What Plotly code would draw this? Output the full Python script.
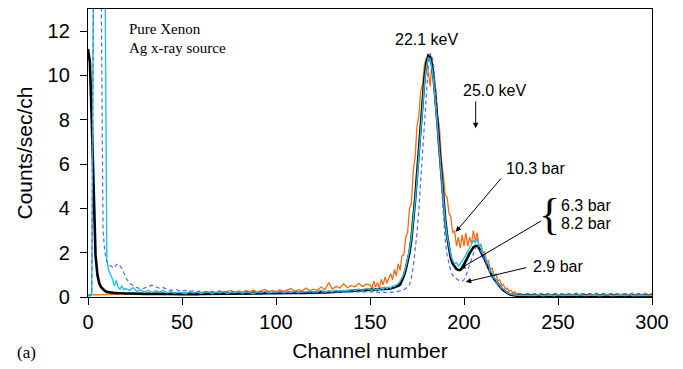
import plotly.graph_objects as go

# channel positions (fine near the spike and the peaks)
ch_low = list(range(0, 21))
ch_mid = list(range(22, 150, 2))
ch_peak = list(range(150, 231))
ch_high = list(range(232, 301, 2))
channels = ch_low + ch_mid + ch_peak + ch_high

# 6.3 bar (black)
black_low = [11.2, 10.6, 8.0, 4.6, 1.9, 1.0, 0.62, 0.44, 0.33, 0.27, 0.23, 0.21, 0.2, 0.19, 0.18, 0.18, 0.17, 0.17, 0.17, 0.16, 0.16]
black_mid = [0.16, 0.15, 0.15, 0.15, 0.14, 0.15, 0.14, 0.14, 0.15, 0.14,
             0.14, 0.13, 0.14, 0.14, 0.13, 0.14, 0.13, 0.14, 0.13, 0.14,
             0.14, 0.13, 0.14, 0.14, 0.15, 0.14, 0.15, 0.14, 0.15, 0.15,
             0.15, 0.16, 0.15, 0.16, 0.16, 0.16, 0.17, 0.16, 0.17, 0.17,
             0.17, 0.18, 0.17, 0.18, 0.18, 0.19, 0.18, 0.19, 0.2, 0.19,
             0.2, 0.21, 0.2, 0.21, 0.22, 0.22, 0.23, 0.23, 0.24, 0.25,
             0.26, 0.27, 0.28, 0.29]
black_peak = [0.3, 0.31, 0.32, 0.32, 0.33, 0.34, 0.35, 0.35, 0.36, 0.37,
              0.38, 0.39, 0.41, 0.43, 0.46, 0.5, 0.56, 0.72, 0.95, 1.25,
              1.6, 2.0, 2.6, 3.4, 4.4, 5.5, 6.7, 7.9, 9.0, 9.9,
              10.55, 10.9, 10.85, 10.45, 9.75, 8.85, 7.75, 6.6, 5.45, 4.4,
              3.5, 2.75, 2.15, 1.75, 1.5, 1.35, 1.26, 1.22, 1.22, 1.3,
              1.45, 1.62, 1.8, 1.98, 2.12, 2.24, 2.3, 2.3, 2.2, 2.05,
              1.88, 1.7, 1.5, 1.3, 1.1, 0.95, 0.82, 0.7, 0.58, 0.47,
              0.38, 0.3, 0.23, 0.17, 0.13, 0.1, 0.08, 0.07, 0.06, 0.06,
              0.06]
black_high = [0.06, 0.06, 0.05, 0.06, 0.05, 0.05, 0.06, 0.05, 0.05, 0.05,
              0.06, 0.05, 0.05, 0.05, 0.05, 0.06, 0.05, 0.05, 0.05, 0.05,
              0.05, 0.06, 0.05, 0.05, 0.05, 0.05, 0.05, 0.05, 0.06, 0.05,
              0.05, 0.05, 0.05, 0.05, 0.05]

# 8.2 bar (cyan)
cyan_low = [0.1, 0.1, 0.15, 16, 16, 16, 16, 16, 16, 16, 1.7, 1.2, 1.0, 0.8, 0.5, 0.75, 0.45, 0.35, 0.5, 0.33, 0.38]
cyan_mid = [0.3, 0.42, 0.25, 0.33, 0.22, 0.3, 0.2, 0.28, 0.22, 0.3,
            0.18, 0.25, 0.17, 0.22, 0.2, 0.15, 0.24, 0.18, 0.22, 0.16,
            0.2, 0.24, 0.15, 0.22, 0.18, 0.25, 0.16, 0.21, 0.19, 0.24,
            0.17, 0.22, 0.2, 0.15, 0.23, 0.19, 0.25, 0.18, 0.22, 0.2,
            0.26, 0.18, 0.23, 0.2, 0.27, 0.19, 0.24, 0.22, 0.28, 0.21,
            0.25, 0.3, 0.22, 0.28, 0.24, 0.31, 0.26, 0.3, 0.27, 0.33,
            0.29, 0.36, 0.3, 0.38]
cyan_peak = [0.35, 0.28, 0.4, 0.32, 0.38, 0.3, 0.42, 0.35, 0.45, 0.38,
             0.45, 0.4, 0.5, 0.48, 0.55, 0.6, 0.7, 0.85, 1.05, 1.35,
             1.7, 2.1, 2.7, 3.4, 4.3, 5.3, 6.4, 7.6, 8.7, 9.7,
             10.4, 10.8, 10.75, 10.3, 9.6, 8.6, 7.5, 6.4, 5.3, 4.3,
             3.4, 2.75, 2.25, 1.9, 1.65, 1.5, 1.55, 1.4, 1.5, 1.6,
             1.75, 1.9, 2.05, 2.2, 2.4, 2.55, 2.45, 2.65, 2.3, 2.35,
             1.95, 1.9, 1.55, 1.5, 1.15, 1.1, 0.85, 0.8, 0.6, 0.52,
             0.4, 0.35, 0.25, 0.2, 0.15, 0.12, 0.1, 0.09, 0.08, 0.08,
             0.07]
cyan_high = [0.08, 0.06, 0.09, 0.07, 0.1, 0.06, 0.08, 0.09, 0.06, 0.1,
             0.07, 0.08, 0.06, 0.09, 0.07, 0.1, 0.06, 0.08, 0.07, 0.09,
             0.06, 0.08, 0.1, 0.07, 0.06, 0.09, 0.08, 0.07, 0.1, 0.06,
             0.08, 0.07, 0.09, 0.06, 0.08]

# 2.9 bar (blue dashed)
dashed_low = [0.05, 0.05, 0.1, 16, 16, 16, 16, 14, 3.0, 2.0, 1.6, 1.45, 1.4, 1.35, 1.3, 1.45, 1.5, 1.4, 1.3, 1.1, 0.9]
dashed_mid = [0.62, 0.5, 0.42, 0.38, 0.4, 0.48, 0.53, 0.45, 0.4, 0.42,
              0.35, 0.3, 0.34, 0.29, 0.27, 0.3, 0.25, 0.28, 0.24, 0.27,
              0.23, 0.26, 0.24, 0.22, 0.26, 0.23, 0.25, 0.22, 0.26, 0.24,
              0.22, 0.25, 0.23, 0.26, 0.22, 0.24, 0.21, 0.25, 0.23, 0.22,
              0.24, 0.21, 0.23, 0.25, 0.22, 0.24, 0.21, 0.23, 0.22, 0.24,
              0.21, 0.23, 0.22, 0.24, 0.21, 0.23, 0.22, 0.24, 0.22, 0.23,
              0.21, 0.23, 0.22, 0.24]
dashed_peak = [0.22, 0.25, 0.2, 0.24, 0.22, 0.2, 0.23, 0.21, 0.22, 0.2,
               0.22, 0.21, 0.23, 0.22, 0.24, 0.25, 0.27, 0.3, 0.33, 0.38,
               0.45, 0.55, 0.85, 1.35, 2.0, 2.9, 4.0, 5.3, 6.7, 8.1,
               9.4, 10.4, 11.0, 10.9, 10.3, 9.2, 7.8, 6.3, 4.9, 3.6,
               2.6, 1.9, 1.45, 1.15, 0.98, 0.88, 0.82, 0.76, 0.72, 0.72,
               0.78, 0.95, 1.2, 1.5, 1.8, 2.05, 2.2, 2.25, 2.2, 2.05,
               1.85, 1.65, 1.45, 1.25, 1.05, 0.9, 0.78, 0.66, 0.55, 0.45,
               0.37, 0.3, 0.24, 0.2, 0.17, 0.15, 0.14, 0.14, 0.15, 0.14,
               0.15]
dashed_high = [0.14, 0.16, 0.13, 0.15, 0.17, 0.14, 0.16, 0.13, 0.15, 0.17,
               0.14, 0.16, 0.15, 0.13, 0.17, 0.15, 0.14, 0.16, 0.15, 0.17,
               0.14, 0.16, 0.13, 0.15, 0.17, 0.14, 0.16, 0.15, 0.14, 0.17,
               0.15, 0.16, 0.14, 0.17, 0.15]

# 10.3 bar (orange)
orange_low = [0.1, 0.12, 0.1, 0.12, 0.11, 0.1, 0.12, 0.11, 0.12, 0.1, 0.12, 0.11, 0.12, 0.13, 0.12, 0.13, 0.12, 0.14, 0.13, 0.15, 0.14]
orange_mid = [0.14, 0.16, 0.13, 0.17, 0.15, 0.14, 0.18, 0.15, 0.17, 0.14,
              0.18, 0.15, 0.2, 0.16, 0.19, 0.15, 0.21, 0.17, 0.2, 0.16,
              0.22, 0.17, 0.25, 0.19, 0.28, 0.2, 0.24, 0.3, 0.21, 0.27,
              0.2, 0.29, 0.23, 0.32, 0.22, 0.27, 0.34, 0.24, 0.3, 0.23,
              0.33, 0.25, 0.3, 0.38, 0.26, 0.33, 0.28, 0.4, 0.29, 0.35,
              0.3, 0.45, 0.33, 0.65, 0.36, 0.48, 0.4, 0.6, 0.42, 0.52,
              0.45, 0.62, 0.48, 0.58]
orange_peak = [0.55, 0.38, 0.72, 0.45, 0.65, 0.42, 0.8, 0.55, 0.9, 0.62,
               0.85, 1.05, 0.78, 1.25, 0.95, 1.5, 1.2, 1.85, 1.9, 2.7,
               2.9, 4.0, 4.2, 5.7, 6.3, 7.7, 8.2, 9.3, 9.6, 10.5,
               10.8, 10.1, 9.5, 10.7, 9.6, 9.4, 8.2, 7.6, 6.2, 5.5,
               4.6, 4.5, 3.8, 3.6, 2.9, 3.0, 2.3, 2.7, 2.2, 2.8,
               2.3, 2.9, 2.3, 2.7, 2.4, 3.0, 2.5, 2.9, 2.3, 2.4,
               2.0, 2.05, 1.6, 1.65, 1.25, 1.3, 0.95, 1.05, 0.72, 0.78,
               0.52, 0.56, 0.36, 0.4, 0.26, 0.3, 0.19, 0.24, 0.14, 0.17,
               0.12]
orange_high = [0.1, 0.08, 0.12, 0.07, 0.1, 0.09, 0.11, 0.07, 0.09, 0.11,
               0.08, 0.1, 0.07, 0.09, 0.11, 0.08, 0.1, 0.07, 0.09, 0.1,
               0.08, 0.11, 0.07, 0.09, 0.1, 0.08, 0.07, 0.1, 0.09, 0.08,
               0.11, 0.07, 0.09, 0.08, 0.1]

x_ticks = [0, 50, 100, 150, 200, 250, 300]
y_ticks = [0, 2, 4, 6, 8, 10, 12]

series = [
    ("10.3 bar", orange_low + orange_mid + orange_peak + orange_high, dict(color="#FF6A0A", width=1.3)),
    ("6.3 bar", black_low + black_mid + black_peak + black_high, dict(color="#000000", width=2.6)),
    ("8.2 bar", cyan_low + cyan_mid + cyan_peak + cyan_high, dict(color="#1EC3EE", width=1.4)),
    ("2.9 bar", dashed_low + dashed_mid + dashed_peak + dashed_high, dict(color="#4A6CFF", width=1.2, dash="4px,3px")),
]

fig = go.Figure()
for name, vals, line in series:
    assert len(vals) == len(channels)
    fig.add_trace(go.Scatter(x=channels, y=vals, mode="lines", name=name, line=line, showlegend=False))

SANS = "Liberation Sans, Arial, Helvetica, sans-serif"
SERIF = "Liberation Serif, Times New Roman, serif"

axis_common = dict(showline=True, linecolor="black", linewidth=1.3, mirror=True,
                   ticks="outside", ticklen=7, tickwidth=1.3, tickcolor="black",
                   showgrid=False, zeroline=False,
                   tickfont=dict(family=SANS, size=20, color="black"))

fig.update_layout(
    width=683, height=369,
    margin=dict(l=88, r=31, t=9, b=72, pad=0),
    plot_bgcolor="white", paper_bgcolor="white",
    xaxis=dict(range=[0, 300], tickvals=x_ticks, **axis_common,
               title=dict(text="Channel number", font=dict(family=SANS, size=21, color="black"), standoff=11)),
    yaxis=dict(range=[0, 13], tickvals=y_ticks, **axis_common, ticklabelstandoff=6,
               title=dict(text="Counts/sec/ch", font=dict(family=SANS, size=21, color="black"), standoff=9)),
)

def label(text, x, y, xanchor="center", size=16, family=SANS):
    fig.add_annotation(x=x, y=y, xref="x", yref="y", text=text, showarrow=False,
                       xanchor=xanchor, yanchor="middle", font=dict(family=family, size=size, color="black"))

def arrow(x, y, ax, ay):
    fig.add_annotation(x=x, y=y, ax=ax, ay=ay, xref="x", yref="y", axref="x", ayref="y",
                       text="", showarrow=True, arrowhead=2, arrowsize=1.1, arrowwidth=1, arrowcolor="black")

label("22.1 keV", 179.9, 11.63)
label("25.0 keV", 216.3, 9.31)
arrow(206.2, 7.62, 206.2, 8.89)
label("10.3 bar", 221.1, 5.82, xanchor="left")
arrow(195.6, 2.94, 220.4, 5.42)
label("{", 245.3, 3.72, size=44, family=SERIF)
label("6.3 bar", 250.4, 4.14, xanchor="left")
label("8.2 bar", 250.4, 3.33, xanchor="left")
arrow(197.9, 1.28, 241.8, 3.47)
label("2.9 bar", 235.9, 1.39, xanchor="left")
arrow(200.9, 0.68, 233.9, 1.34)
label("Pure Xenon", 20.6, 12.08, xanchor="left", size=15, family=SERIF)
label("Ag x-ray source", 20.6, 11.22, xanchor="left", size=15, family=SERIF)

fig.add_annotation(x=-0.1294, y=-0.192, xref="paper", yref="paper", text="(a)", showarrow=False,
                   xanchor="left", yanchor="middle", font=dict(family=SERIF, size=17, color="black"))

fig.write_html("out.html")
